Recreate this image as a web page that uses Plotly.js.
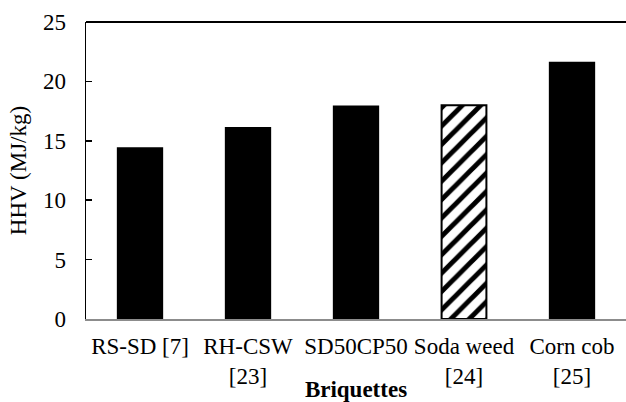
<!DOCTYPE html>
<html>
<head>
<meta charset="utf-8">
<script src="https://cdn.plot.ly/plotly-3.0.1.min.js"></script>
<style>html,body{margin:0;padding:0;background:#fff;}#chart{width:626px;height:402px;}</style>
</head>
<body>
<div id="chart"></div>
<script>
const categories = ["RS-SD [7]", "RH-CSW<br>[23]", "SD50CP50", "Soda weed<br>[24]", "Corn cob<br>[25]"];
const hhvSolid = [14.4, 16.1, 17.9, null, 21.6];
const hhvHatched = [null, null, null, 18.0, null];
const yTickValues = [0, 5, 10, 15, 20, 25];

const font = {family: "Liberation Serif, Times New Roman, serif", size: 23, color: "#000"};

const solidTrace = {
  type: "bar",
  x: categories,
  y: hhvSolid,
  marker: {color: "#000", line: {color: "#000", width: 1.5}},
  hoverinfo: "none"
};
const hatchedTrace = {
  type: "bar",
  x: categories,
  y: hhvHatched,
  marker: {
    color: "#fff",
    line: {color: "#000", width: 2},
    pattern: {shape: "/", fgcolor: "#000", fgopacity: 1, bgcolor: "#fff", fillmode: "replace", size: 13, solidity: 0.38}
  },
  hoverinfo: "none"
};

const layout = {
  width: 626,
  height: 402,
  margin: {l: 86, r: 0, t: 22, b: 83},
  paper_bgcolor: "#fff",
  plot_bgcolor: "#fff",
  font: font,
  showlegend: false,
  barmode: "overlay",
  bargap: 0.585,
  xaxis: {
    type: "category",
    showline: true,
    linecolor: "#8c8c8c",
    linewidth: 1.5,
    showgrid: false,
    ticks: "",
    ticklabelstandoff: 6,
    tickfont: font,
    title: {text: "<b>Briquettes</b>", font: font, standoff: 3}
  },
  yaxis: {
    range: [0, 25],
    tickvals: yTickValues,
    showline: true,
    linecolor: "#000",
    linewidth: 1.5,
    showgrid: false,
    zeroline: false,
    ticks: "inside",
    ticklen: 6,
    tickwidth: 1.5,
    tickcolor: "#000",
    ticklabelstandoff: 14,
    tickfont: font,
    title: {text: "HHV (MJ/kg)", font: font, standoff: 10}
  },
  shapes: [{
    type: "line", xref: "paper", yref: "paper",
    x0: 0, x1: 1, y0: 1, y1: 1,
    line: {color: "#000", width: 2}
  }]
};

Plotly.newPlot("chart", [solidTrace, hatchedTrace], layout, {displayModeBar: false, staticPlot: true});
</script>
</body>
</html>
